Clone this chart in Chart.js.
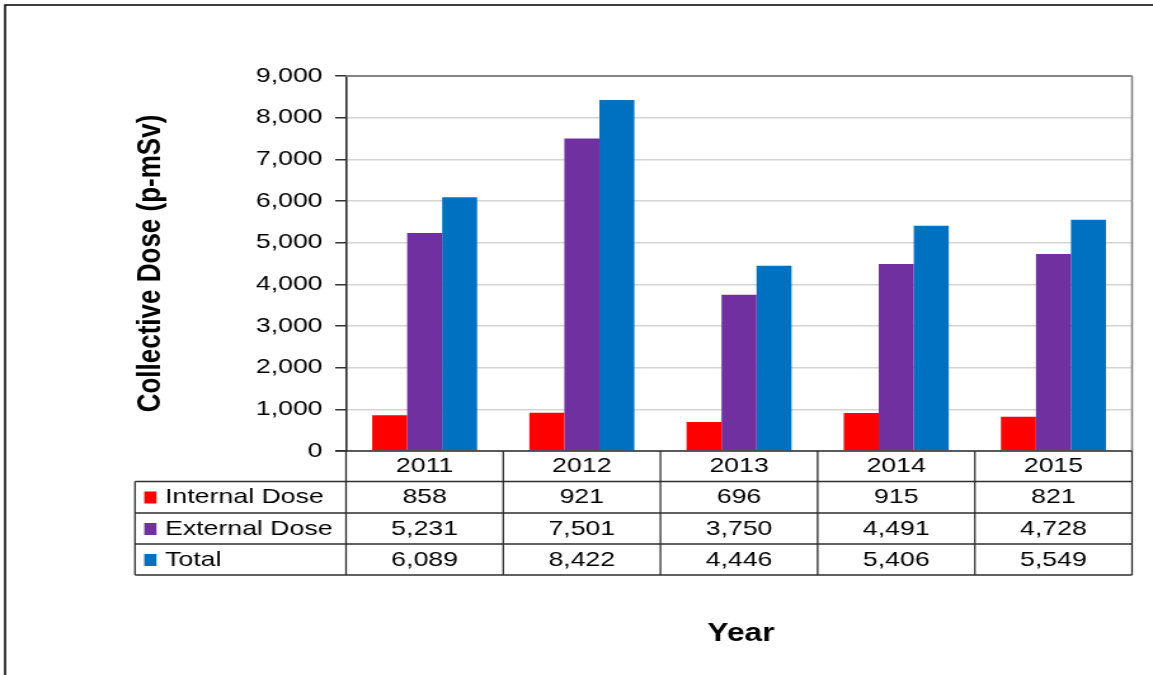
<!DOCTYPE html>
<html>
<head>
<meta charset="utf-8">
<title>Collective Dose</title>
<script src="https://cdn.jsdelivr.net/npm/chart.js@4/dist/chart.umd.min.js"></script>
<style>
  body { margin: 0; background: #fff; overflow: hidden; }
  /* chart is drawn 908 wide and widened to 1153 */
  .wrap { width: 908px; height: 675px; transform: scaleX(1.26982); transform-origin: 0 0; }
  #chart { display: block; }
</style>
</head>
<body>
<div class="wrap">
  <canvas id="chart" width="908" height="675" style="width:908px;height:675px"></canvas>
</div>
<script>
const years = ["2011", "2012", "2013", "2014", "2015"];
const internalDose = [858, 921, 696, 915, 821];
const externalDose = [5231, 7501, 3750, 4491, 4728];
const totalDose = [6089, 8422, 4446, 5406, 5549];
const seriesNames = ["Internal Dose", "External Dose", "Total"];
const seriesColors = ["#ff0000", "#7030a0", "#0070c0"];
const yTickValues = [0, 1000, 2000, 3000, 4000, 5000, 6000, 7000, 8000, 9000];

const fontFamily = "'Liberation Sans', Arial, sans-serif";

function formatNumber(value) {
  return value.toLocaleString("en-US");
}

const dataTablePlugin = {
  id: "dataTable",
  beforeDraw(chart) {
    const ctx = chart.ctx;
    ctx.save();
    ctx.strokeStyle = "#000";
    ctx.lineWidth = 1.5;
    ctx.strokeRect(4, 5, chart.width + 50, chart.height + 50);
    ctx.restore();
  },
  afterDraw(chart) {
    const { ctx, chartArea } = chart;
    const left = chartArea.left;
    const right = chartArea.right;
    const top = chartArea.top;
    const bottom = chartArea.bottom;
    const colWidth = (right - left) / years.length;
    const labelLeft = 106.3;
    const rowLines = [bottom + 30.5, bottom + 62, bottom + 93];
    const tableBottom = bottom + 124;
    const rows = [internalDose, externalDose, totalDose];

    ctx.save();

    // plot area frame on top and right
    ctx.strokeStyle = "#858585";
    ctx.lineWidth = 2;
    ctx.beginPath();
    ctx.moveTo(left, top);
    ctx.lineTo(right, top);
    ctx.stroke();
    ctx.lineWidth = 1.6;
    ctx.beginPath();
    ctx.moveTo(right, top);
    ctx.lineTo(right, bottom);
    ctx.stroke();

    // table grid
    ctx.strokeStyle = "#2e2e2e";
    ctx.lineWidth = 1.6;
    ctx.beginPath();
    ctx.moveTo(left - 8.5, bottom);
    ctx.lineTo(right, bottom);
    rowLines.concat([tableBottom]).forEach((y) => {
      ctx.moveTo(labelLeft, y);
      ctx.lineTo(right, y);
    });
    ctx.stroke();

    ctx.lineWidth = 1.3;
    ctx.beginPath();
    for (let i = 0; i <= years.length; i++) {
      const x = left + i * colWidth;
      ctx.moveTo(x, bottom);
      ctx.lineTo(x, tableBottom);
    }
    ctx.moveTo(labelLeft, rowLines[0]);
    ctx.lineTo(labelLeft, tableBottom);
    ctx.stroke();

    ctx.fillStyle = "#000";
    ctx.font = "21px " + fontFamily;
    ctx.textBaseline = "middle";
    ctx.textAlign = "center";
    years.forEach((year, i) => {
      const cx = chart.scales.x.getPixelForValue(i);
      ctx.fillText(year, cx, bottom + 15.5);
    });

    rows.forEach((values, r) => {
      const rowTop = rowLines[r];
      const cy = rowTop + 16;
      values.forEach((v, i) => {
        const cx = chart.scales.x.getPixelForValue(i);
        ctx.textAlign = "center";
        ctx.fillStyle = "#000";
        ctx.fillText(formatNumber(v), cx, cy);
      });
      ctx.fillStyle = seriesColors[r];
      ctx.fillRect(113.6, cy - 6, 9.6, 12);
      ctx.fillStyle = "#000";
      ctx.textAlign = "left";
      ctx.fillText(seriesNames[r], 130, cy);
    });

    // horizontal axis title
    ctx.font = "bold 25px " + fontFamily;
    ctx.textAlign = "center";
    ctx.fillText("Year", (left + right) / 2 + 1.5, 634);

    ctx.restore();
  },
};

const ctx = document.getElementById("chart");
new Chart(ctx, {
  type: "bar",
  data: {
    labels: years,
    datasets: [internalDose, externalDose, totalDose].map((values, i) => ({
      label: seriesNames[i],
      data: values,
      backgroundColor: seriesColors[i],
      borderWidth: 0,
      categoryPercentage: 0.668,
      barPercentage: 1,
    })),
  },
  options: {
    responsive: false,
    animation: false,
    layout: {
      padding: { left: 0, top: 76, right: 16.5, bottom: 224 },
    },
    plugins: {
      legend: { display: false },
      tooltip: { enabled: false },
    },
    scales: {
      x: {
        display: false,
      },
      y: {
        min: 0,
        max: 9000,
        afterBuildTicks: (scale) => {
          scale.ticks = yTickValues.map((v) => ({ value: v }));
        },
        afterFit: (scale) => {
          scale.width = 272.5;
        },
        border: { color: "#2b2b2b", width: 1.6 },
        grid: {
          color: "#d4d4d4",
          lineWidth: 1.5,
          tickColor: "#333",
          tickLength: 8.5,
        },
        ticks: {
          padding: 10,
          color: "#000",
          font: { family: fontFamily, size: 21 },
          callback: (value) => formatNumber(value),
        },
        title: {
          display: true,
          text: "Collective Dose (p-mSv)",
          color: "#000",
          font: { family: fontFamily, size: 26, weight: "bold" },
          padding: { top: 103, bottom: 0 },
        },
      },
    },
  },
  plugins: [dataTablePlugin],
});
</script>
</body>
</html>
